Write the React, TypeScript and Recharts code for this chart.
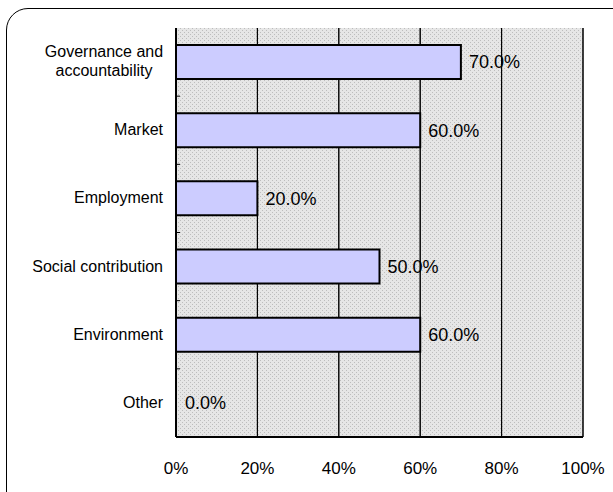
import React from 'react'
import { BarChart, Bar, Cell, XAxis, YAxis, CartesianGrid, LabelList } from 'recharts'

const categories = [
  'Governance and accountability',
  'Market',
  'Employment',
  'Social contribution',
  'Environment',
  'Other',
]
const shares = [0.7, 0.6, 0.2, 0.5, 0.6, 0.0]
const xTicks = [0, 0.2, 0.4, 0.6, 0.8, 1]

const data = categories.map((name, i) => ({ name, value: shares[i] }))

const font = '"Liberation Sans", Arial, sans-serif'

function CategoryTick(props: any) {
  const { x, y, payload, index } = props
  const label: string = payload.value
  const lines = label === 'Governance and accountability' ? ['Governance and', 'accountability'] : [label]
  const band = 409 / categories.length
  return (
    <g>
      {lines.length === 1 ? (
        <text x={x - 5} y={y} dy={5} textAnchor="end" fontSize={16} fontFamily={font} fill="#000">
          {label}
        </text>
      ) : (
        <text textAnchor="middle" fontSize={16} fontFamily={font} fill="#000">
          <tspan x={x - 64} y={y - 10} dy={5}>{lines[0]}</tspan>
          <tspan x={x - 64} y={y + 9} dy={5}>{lines[1]}</tspan>
        </text>
      )}
      {index < categories.length - 1 && (
        <line x1={x + 7} x2={x + 12} y1={y + band / 2} y2={y + band / 2} stroke="#000" strokeWidth={1} />
      )}
    </g>
  )
}

export default function App() {
  return (
    <div style={{ position: 'absolute', left: 0, top: 0, width: 613, height: 492, background: '#fff', overflow: 'hidden' }}>
      <div
        style={{
          position: 'absolute',
          left: 6,
          top: 8,
          width: 640,
          height: 520,
          border: '1.5px solid #000',
          borderRadius: 22,
          boxSizing: 'border-box',
        }}
      />
      <div style={{ position: 'absolute', left: 0, top: 0 }}>
        <BarChart
          width={613}
          height={492}
          data={data}
          layout="vertical"
          margin={{ top: 28, right: 30, bottom: 25, left: 16 }}
        >
          <defs>
            <pattern id="dots" width="4" height="4" patternUnits="userSpaceOnUse">
              <rect width="4" height="4" fill="#e6e6e6" />
              <rect x="0" y="0" width="1" height="1" fill="#bdbdbd" />
              <rect x="2" y="2" width="1" height="1" fill="#bdbdbd" />
            </pattern>
          </defs>
          <CartesianGrid
            horizontal={false}
            stroke="#000"
            fill="url(#dots)"
            fillOpacity={1}
            verticalPoints={[]}
          />
          <CartesianGrid horizontal={false} stroke="#000" />
          <XAxis
            type="number"
            domain={[0, 1]}
            ticks={xTicks}
            tickFormatter={(v: number) => `${Math.round(v * 100)}%`}
            tick={{ fontSize: 17, fontFamily: font, fill: '#000', dy: 17 }}
            tickLine={false}
            axisLine={{ stroke: '#000', strokeWidth: 2 }}
          />
          <XAxis
            xAxisId="top"
            orientation="top"
            type="number"
            domain={[0, 1]}
            height={0}
            tick={false}
            tickLine={false}
            axisLine={{ stroke: '#888', strokeWidth: 1.5 }}
          />
          <YAxis
            type="category"
            dataKey="name"
            width={160}
            tick={<CategoryTick />}
            tickLine={false}
            axisLine={{ stroke: '#000', strokeWidth: 2 }}
            interval={0}
          />
          <YAxis
            yAxisId="right"
            orientation="right"
            type="category"
            dataKey="name"
            width={0}
            tick={false}
            tickLine={false}
            axisLine={{ stroke: '#888', strokeWidth: 2 }}
          />
          <Bar
            dataKey="value"
            fill="#ccccff"
            stroke="#000"
            strokeWidth={2}
            barSize={34}
            minPointSize={1}
            isAnimationActive={false}
          >
            {data.map((d, i) => (
              <Cell key={`cell-${i}`} stroke={d.value > 0 ? '#000' : 'none'} fill={d.value > 0 ? '#ccccff' : 'none'} />
            ))}
            <LabelList
              dataKey="value"
              position="right"
              offset={8}
              formatter={(v: any) => `${(Number(v) * 100).toFixed(1)}%`}
              style={{ fontSize: 18, fontFamily: font, fill: '#000' }}
            />
          </Bar>
        </BarChart>
      </div>
    </div>
  )
}
